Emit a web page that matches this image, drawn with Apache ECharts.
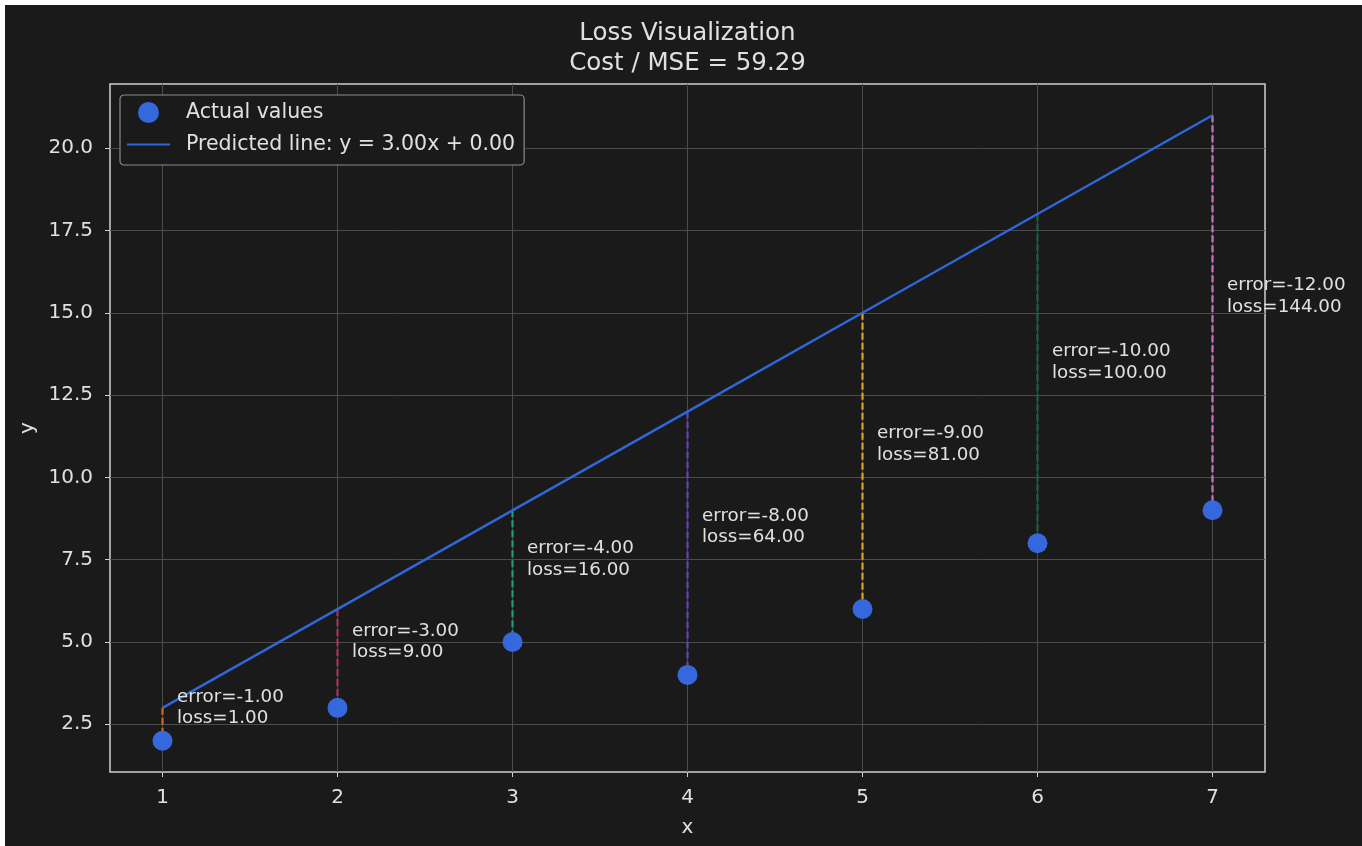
<!DOCTYPE html>
<html><head><meta charset="utf-8">
<script src="https://cdn.jsdelivr.net/npm/echarts@6/dist/echarts.min.js"></script>
<style>html,body{margin:0;padding:0;background:#ffffff;overflow:hidden;} #c{position:absolute;left:5px;top:5px;width:1357px;height:841px;}</style>
</head><body><div id="c"></div><script>
const xValues = [1, 2, 3, 4, 5, 6, 7];
const yActual = [2, 3, 5, 4, 6, 8, 9];
const yPredicted = [3, 6, 9, 12, 15, 18, 21];
const errorValues = [-1, -3, -4, -8, -9, -10, -12];
const lossValues = [1, 9, 16, 64, 81, 100, 144];
const mseValue = 59.29;
const xTicks = [1, 2, 3, 4, 5, 6, 7];
const yTicks = [2.5, 5, 7.5, 10, 12.5, 15, 17.5, 20];
const errorColors = ['#d2691e', '#ad2f5c', '#1f9e73', '#6a40b5', '#e0a020', '#1e5e48', '#d070c8'];
const titleLines = ['Loss Visualization', 'Cost / MSE = ' + mseValue.toFixed(2)];
const actualName = 'Actual values';
const lineName = 'Predicted line: y = 3.00x + 0.00';

const FONT = '"DejaVu Sans", sans-serif';
const TXT = '#e0e0e0';
const chart = echarts.init(document.getElementById('c'), null, {renderer: 'canvas'});

const option = {
  backgroundColor: '#1a1a1a',
  animation: false,
  graphic: [{
    type: 'text', x: 682.5, y: 14, z: 10,
    style: {text: titleLines.join('\n'), fill: TXT, fontSize: 24.5, fontFamily: FONT, lineHeight: 30, align: 'center', verticalAlign: 'top'}
  }],
  grid: {left: 105, right: 97, top: 79, bottom: 74, show: true, borderColor: '#cfcfcf', borderWidth: 1.5, backgroundColor: 'transparent'},
  legend: {
    data: [{name: actualName, icon: 'circle'}, {name: lineName, icon: 'path://M0,0H40V2H0Z'}],
    orient: 'vertical', left: 115, top: 90, itemWidth: 43, itemHeight: 21, itemGap: 11,
    padding: [7, 9, 10, 7], backgroundColor: '#1a1a1a', borderColor: '#8a8a8a', borderWidth: 1.2, borderRadius: 4,
    selectedMode: false,
    textStyle: {color: TXT, fontSize: 20.5, fontFamily: FONT, padding: [0, 0, 0, 11]}
  },
  xAxis: {
    type: 'value', min: 0.7, max: 7.3,
    axisLine: {show: false},
    axisTick: {show: true, customValues: xTicks, length: 5, lineStyle: {color: '#d0d0d0', width: 1}},
    axisLabel: {customValues: xTicks, color: TXT, fontSize: 20, fontFamily: FONT, margin: 16},
    splitLine: {show: false},
    name: 'x', nameLocation: 'middle', nameGap: 46,
    nameTextStyle: {color: TXT, fontSize: 20, fontFamily: FONT}
  },
  yAxis: {
    type: 'value', min: 1.05, max: 21.95,
    axisLine: {show: false},
    axisTick: {show: true, customValues: yTicks, length: 5, lineStyle: {color: '#d0d0d0', width: 1}},
    axisLabel: {customValues: yTicks, color: TXT, fontSize: 20, fontFamily: FONT, margin: 17, padding: [6, 0, 0, 0], formatter: v => Number(v).toFixed(1)},
    splitLine: {show: false},
    name: 'y', nameLocation: 'middle', nameGap: 68,
    nameTextStyle: {color: TXT, fontSize: 20, fontFamily: FONT}
  },
  series: [
    {
      type: 'line', name: 'grid', data: [], silent: true,
      markLine: {
        silent: true, symbol: ['none', 'none'], z: 0, animation: false,
        label: {show: false},
        lineStyle: {color: '#4b4b4b', width: 1, type: 'solid'},
        emphasis: {disabled: true},
        data: xTicks.map(v => ({xAxis: v})).concat(yTicks.map(v => ({yAxis: v})))
      }
    },
    {
      type: 'custom', name: 'errors', silent: true, z: 2,
      data: xValues.map((x, i) => [x, yPredicted[i], yActual[i], i]),
      encode: {x: 0, y: [1, 2]},
      renderItem: (params, api) => {
        const i = api.value(3);
        const p1 = api.coord([api.value(0), api.value(1)]);
        const p2 = api.coord([api.value(0), api.value(2)]);
        return {type: 'line', shape: {x1: p1[0], y1: p1[1], x2: p2[0], y2: p2[1]},
          style: {stroke: errorColors[i], lineWidth: 2.2, lineDash: [7, 3]}};
      }
    },
    {
      type: 'custom', name: 'labels', silent: true, z: 5,
      data: xValues.map((x, i) => [x, yPredicted[i], yActual[i], i]),
      encode: {x: 0, y: [1, 2]},
      renderItem: (params, api) => {
        const i = api.value(3);
        const pt = api.coord([api.value(0) + 0.1, (api.value(1) + api.value(2)) / 2]);
        return {type: 'text', x: pt[0] - 3, y: pt[1] + 5,
          style: {text: 'error=' + errorValues[i].toFixed(2) + '\nloss=' + lossValues[i].toFixed(2),
            fill: TXT, fontSize: 18.3, fontFamily: FONT, lineHeight: 21.6, align: 'left', verticalAlign: 'bottom'}};
      }
    },
    {
      type: 'line', name: lineName, z: 3,
      data: xValues.map((x, i) => [x, yPredicted[i]]),
      symbol: 'none', showSymbol: false,
      lineStyle: {color: '#2f66d8', width: 2.5},
      itemStyle: {color: '#2f66d8'}
    },
    {
      type: 'scatter', name: actualName, z: 4,
      data: xValues.map((x, i) => [x, yActual[i]]),
      symbolSize: 20,
      itemStyle: {color: '#3468dc', opacity: 1}
    }
  ]
};
chart.setOption(option);
</script></body></html>
